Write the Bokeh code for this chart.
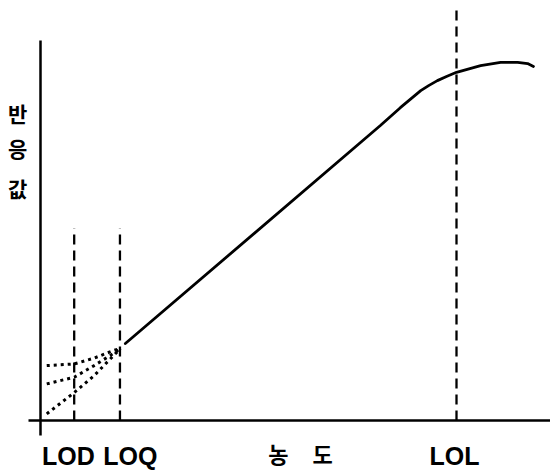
from bokeh.plotting import figure
from bokeh.models import Range1d
from bokeh.core.properties import value
from bokeh.embed import file_html
from bokeh.resources import INLINE

# ---- data (concentration units, response units) ----
curve_x = [20.4, 81.7, 86.5, 91.4, 93.3, 95.4, 97.6, 100.0, 105.8, 110.6, 114.7, 117.1, 118.5]
curve_y = [18.5, 70.9, 75.2, 79.3, 80.5, 81.7, 82.7, 83.7, 85.3, 86.1, 86.1, 85.8, 85.1]

low_top_x = [1.5, 8.1, 12.9, 17.5, 19.2]
low_top_y = [13.2, 13.6, 15.0, 16.8, 17.3]
low_mid_x = [1.5, 8.1, 12.9, 17.5, 19.2]
low_mid_y = [8.8, 10.4, 13.2, 16.1, 17.3]
low_bot_x = [1.5, 8.1, 12.9, 19.2]
low_bot_y = [1.6, 6.7, 10.8, 17.3]

limit_names = ["LOD", "LOQ", "LOL"]
limit_x = [8.1, 19.1, 100.0]
limit_top = [46.2, 46.2, 98.6]

x_title = ["농", "도"]
y_title = ["반", "응", "값"]

# ---- figure ----
S = 4.16  # px per unit
p = figure(width=550, height=470, output_backend="svg", toolbar_location=None,
           x_axis_type=None, y_axis_type=None, min_border=0,
           x_range=Range1d((0 - 40) / S, (550 - 40) / S),
           y_range=Range1d((420 - 470) / S, (420 - 0) / S))
p.grid.visible = False
p.outline_line_color = None
p.background_fill_color = "white"
p.border_fill_color = "white"

# axes lines
p.line([0, 0], [(420 - 40) / S, (420 - 435) / S], line_color="black", line_width=2.5)
p.line([(28 - 40) / S, (552 - 40) / S], [0, 0], line_color="black", line_width=2.5)

# dashed limit lines
for lx, lt in zip(limit_x, limit_top):
    p.line([lx, lx], [0, lt], line_color="black", line_width=2.3, line_dash="10 6")

# dotted low-end curves
for xs, ys in [(low_top_x, low_top_y), (low_mid_x, low_mid_y), (low_bot_x, low_bot_y)]:
    p.line(xs, ys, line_color="black", line_width=3, line_dash="3 4")

# main response curve
p.line(curve_x, curve_y, line_color="black", line_width=2.8, line_join="round", line_cap="round")

# labels
lab_font = value("'Liberation Sans Narrow', 'Liberation Sans', sans-serif")
p.text(x=[6.7, 21.6, 99.5], y=[-8.6] * 3, text=limit_names, text_font=lab_font,
       text_font_size="25px", text_font_style="bold", text_align="center",
       text_baseline="middle", text_color="black")
p.text(x=[57.2, 67.8], y=[-7.9] * 2, text=x_title, text_font=value("Noto Sans CJK KR"),
       text_font_size="22px", text_font_style="bold", text_align="center",
       text_baseline="middle", text_color="black")
p.text(x=[-5.5] * 3, y=[74.0, 65.4, 56.0], text=y_title, text_font=value("Noto Sans CJK KR"),
       text_font_size="21px", text_font_style="bold", text_align="center",
       text_baseline="middle", text_color="black")

open("out.html", "w").write(file_html(p, INLINE))
